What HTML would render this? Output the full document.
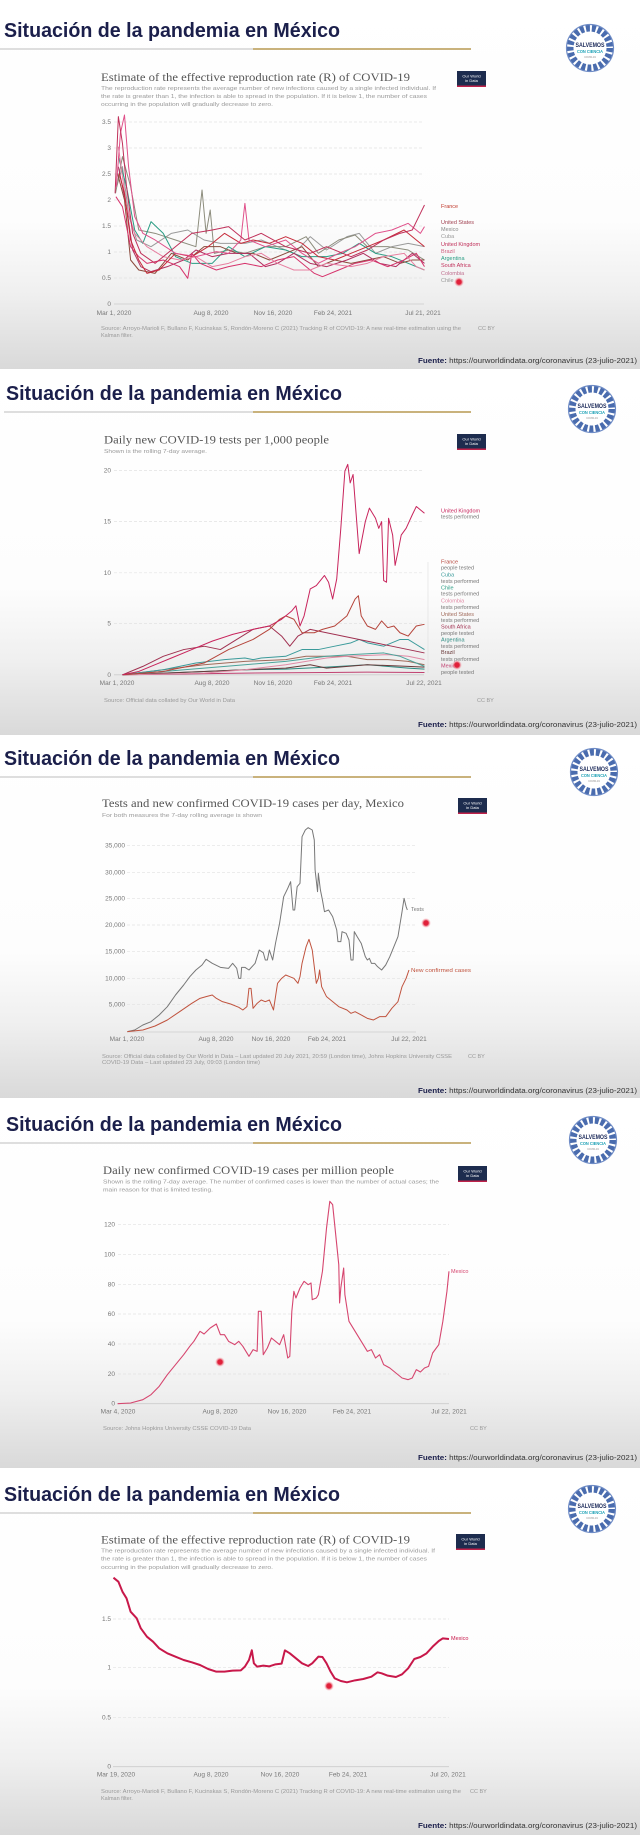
<!DOCTYPE html>
<html><head><meta charset="utf-8"><style>
html,body{margin:0;padding:0;background:#fff}
svg{display:block}
.t{font-family:"Liberation Sans",sans-serif;font-weight:bold;fill:#1b1f4b;font-size:20px}
.ct{font-family:"Liberation Serif",serif;fill:#555;font-size:12px}
.s{font-family:"Liberation Sans",sans-serif;fill:#999;font-size:5.5px}
.ax{font-family:"Liberation Sans",sans-serif;fill:#777;font-size:6.5px}
.lg{font-family:"Liberation Sans",sans-serif;font-size:5.5px}
.fu{font-family:"Liberation Sans",sans-serif;fill:#333;font-size:7px}
.g{stroke:#e2e2e2;stroke-width:0.7;stroke-dasharray:3 2}
.b{stroke:#ccc;stroke-width:0.8}
.p{fill:none;vector-effect:non-scaling-stroke;stroke-linejoin:round}
</style></head><body>
<svg width="640" height="1835" viewBox="0 0 640 1835" xmlns="http://www.w3.org/2000/svg">
<defs>
<linearGradient id="bg" x1="0" y1="0" x2="0" y2="1">
<stop offset="0" stop-color="#fff"/><stop offset="0.6" stop-color="#fdfdfd"/><stop offset="0.8" stop-color="#efefef"/><stop offset="1" stop-color="#d9d9d9"/>
</linearGradient>
<radialGradient id="dot"><stop offset="0" stop-color="#e0203a"/><stop offset="0.45" stop-color="#e0203a"/><stop offset="1" stop-color="#f7b0b8" stop-opacity="0"/></radialGradient>
<g id="logo">
<circle r="24" fill="#fff"/>
<circle r="20" fill="none" stroke="#4a6cae" stroke-width="7" stroke-dasharray="4 2"/>
<circle r="23.5" fill="none" stroke="#6f8cc6" stroke-width="1.2"/>
<circle r="16" fill="#fff"/>
<text x="0" y="-1" text-anchor="middle" font-family="Liberation Sans,sans-serif" font-weight="bold" font-size="6.5" fill="#1c2a5a" textLength="29" lengthAdjust="spacingAndGlyphs">SALVEMOS</text>
<text x="0" y="5" text-anchor="middle" font-family="Liberation Sans,sans-serif" font-weight="bold" font-size="4.5" fill="#1aa0b5" textLength="26" lengthAdjust="spacingAndGlyphs">CON CIENCIA</text>
<text x="0" y="10" text-anchor="middle" font-family="Liberation Sans,sans-serif" font-size="2.5" fill="#888">COVID-19</text>
</g>
<g id="owid">
<rect width="29" height="16" fill="#1d2c4e"/><rect y="14.5" width="29" height="1.5" fill="#c0224a"/>
<text x="14.5" y="6.5" text-anchor="middle" font-family="Liberation Sans,sans-serif" font-size="4" fill="#fff">Our World</text>
<text x="14.5" y="11" text-anchor="middle" font-family="Liberation Sans,sans-serif" font-size="4" fill="#fff">in Data</text>
</g>
</defs>

<!-- backgrounds -->
<rect x="0" y="0" width="640" height="369" fill="url(#bg)"/>
<rect x="0" y="369" width="640" height="366" fill="url(#bg)"/>
<rect x="0" y="735" width="640" height="363" fill="url(#bg)"/>
<rect x="0" y="1098" width="640" height="370" fill="url(#bg)"/>
<rect x="0" y="1468" width="640" height="367" fill="url(#bg)"/>

<!-- ============ PANEL 1 ============ -->
<g transform="translate(0,0)">
<text class="t" x="4" y="37" textLength="336" lengthAdjust="spacingAndGlyphs">Situación de la pandemia en México</text>
<line x1="0" y1="49" x2="253" y2="49" stroke="#d4d4d4" stroke-width="1.5"/>
<line x1="253" y1="49" x2="471" y2="49" stroke="#c9b27c" stroke-width="2"/>
<use href="#logo" x="590" y="48"/>
<text class="ct" x="101" y="81" textLength="309" lengthAdjust="spacingAndGlyphs">Estimate of the effective reproduction rate (R) of COVID-19</text>
<use href="#owid" x="457" y="71"/>
<text class="s" x="101" y="90" textLength="335" lengthAdjust="spacingAndGlyphs">The reproduction rate represents the average number of new infections caused by a single infected individual. If</text>
<text class="s" x="101" y="98" textLength="326" lengthAdjust="spacingAndGlyphs">the rate is greater than 1, the infection is able to spread in the population. If it is below 1, the number of cases</text>
<text class="s" x="101" y="106" textLength="172" lengthAdjust="spacingAndGlyphs">occurring in the population will gradually decrease to zero.</text>
<g>
<line class="g" x1="114" x2="424" y1="122" y2="122"/><line class="g" x1="114" x2="424" y1="148" y2="148"/>
<line class="g" x1="114" x2="424" y1="174" y2="174"/><line class="g" x1="114" x2="424" y1="200" y2="200"/>
<line class="g" x1="114" x2="424" y1="226" y2="226"/><line class="g" x1="114" x2="424" y1="252" y2="252"/>
<line class="g" x1="114" x2="424" y1="278" y2="278"/><line class="b" x1="114" x2="424" y1="304" y2="304"/>
</g>
<g class="ax" text-anchor="end">
<text x="111" y="124">3.5</text><text x="111" y="150">3</text><text x="111" y="176">2.5</text><text x="111" y="202">2</text>
<text x="111" y="228">1.5</text><text x="111" y="254">1</text><text x="111" y="280">0.5</text><text x="111" y="306">0</text>
</g>
<g class="ax" text-anchor="middle">
<text x="114" y="315">Mar 1, 2020</text><text x="211" y="315">Aug 8, 2020</text><text x="273" y="315">Nov 16, 2020</text><text x="333" y="315">Feb 24, 2021</text><text x="423" y="315">Jul 21, 2021</text>
</g>
<g transform="scale(0.40816,0.33333)" stroke-width="1">
<polyline class="p" stroke="#9a9a9a" points="286,560 300,500 316,650 335,720 370,740 420,700 460,690 500,720 540,730 600,730 640,720 680,740 720,760 760,710 800,750 850,710 880,700 920,760 960,740 1000,730 1040,740"/>
<polyline class="p" stroke="#8c8c7c" points="283,580 300,470 320,560 340,690 380,700 430,720 480,740 495,570 505,700 515,630 525,760 560,750 600,760 650,740 700,740 750,710 780,760 830,720 870,705 900,740 950,740 1000,750 1040,780"/>
<polyline class="p" stroke="#2a9d84" points="290,470 310,560 330,690 350,730 370,665 400,700 430,770 470,790 520,790 560,740 600,770 650,740 700,750 740,770 800,770 840,760 880,730 920,760 960,770 1000,790 1040,810"/>
<polyline class="p" stroke="#8b4a3c" points="288,520 305,600 320,780 340,810 380,820 420,760 460,780 500,740 540,740 580,760 620,760 660,780 700,760 740,740 780,800 820,780 860,790 900,780 940,770 980,790 1010,780 1040,780"/>
<polyline class="p" stroke="#b03060" points="290,500 310,620 325,750 345,800 370,815 410,800 450,780 480,750 520,770 560,760 610,760 650,800 680,790 720,760 760,790 800,800 850,780 890,760 930,790 970,800 1010,760 1040,790"/>
<polyline class="p" stroke="#d6336c" points="284,590 300,620 320,740 340,770 360,790 400,780 440,800 460,835 470,760 490,790 530,810 560,800 600,790 640,800 680,780 720,770 770,820 790,830 830,810 870,790 910,780 950,800 990,780 1020,760 1040,800"/>
<polyline class="p" stroke="#e77fa0" points="290,440 310,620 330,700 360,740 400,770 440,780 480,770 520,800 560,790 600,770 640,760 680,790 720,810 760,810 800,790 860,800 900,790 940,770 990,760 1020,800 1040,810"/>
<polyline class="p" stroke="#c62a3a" points="292,520 305,580 320,720 340,780 360,820 390,810 430,760 470,770 510,740 550,700 590,730 620,720 660,730 700,710 740,730 780,770 820,780 860,760 900,740 940,720 990,690 1020,720 1040,740"/>
<polyline class="p" stroke="#e0508a" points="285,560 295,400 305,345 315,500 330,650 350,700 380,720 430,760 480,770 530,755 560,760 590,720 600,610 610,720 650,740 700,720 740,760 780,790 830,760 870,740 920,700 960,690 1000,670 1030,700 1040,680"/>
<polyline class="p" stroke="#c0305a" points="282,580 290,350 300,430 310,560 325,700 345,760 380,790 420,750 470,700 520,690 560,680 600,720 640,700 700,740 760,760 800,740 860,770 900,750 940,720 980,700 1010,690 1030,640 1040,615"/>
</g>
<g class="lg">
<text x="441" y="208" fill="#c0392b">France</text><text x="441" y="224" fill="#a04050">United States</text>
<text x="441" y="231" fill="#888">Mexico</text><text x="441" y="238" fill="#999">Cuba</text>
<text x="441" y="246" fill="#c0305a">United Kingdom</text><text x="441" y="253" fill="#d06080">Brazil</text>
<text x="441" y="260" fill="#2a9d84">Argentina</text><text x="441" y="267" fill="#c0305a">South Africa</text>
<text x="441" y="275" fill="#c07090">Colombia</text><text x="441" y="282" fill="#999">Chile</text>
</g>
<circle cx="459" cy="282" r="5" fill="url(#dot)"/>
<text class="s" x="101" y="330" textLength="360" lengthAdjust="spacingAndGlyphs">Source: Arroyo-Marioli F, Bullano F, Kucinskas S, Rondón-Moreno C (2021) Tracking R of COVID-19: A new real-time estimation using the</text>
<text class="s" x="101" y="337">Kalman filter.</text>
<text class="s" x="478" y="330">CC BY</text>
<text class="fu" x="637" y="363" text-anchor="end" textLength="219" lengthAdjust="spacingAndGlyphs"><tspan font-weight="bold" fill="#1b1f4b">Fuente:</tspan> https://ourworldindata.org/coronavirus (23-julio-2021)</text>
</g>

<!-- ============ PANEL 2 ============ -->
<g transform="translate(0,360)">
<text class="t" x="6" y="40" textLength="336" lengthAdjust="spacingAndGlyphs">Situación de la pandemia en México</text>
<line x1="4" y1="52" x2="253" y2="52" stroke="#d4d4d4" stroke-width="1.5"/>
<line x1="253" y1="52" x2="471" y2="52" stroke="#c9b27c" stroke-width="2"/>
<use href="#logo" x="592" y="49"/>
<text class="ct" x="104" y="83.5" textLength="225" lengthAdjust="spacingAndGlyphs">Daily new COVID-19 tests per 1,000 people</text>
<text class="s" x="104" y="93" textLength="103" lengthAdjust="spacingAndGlyphs">Shown is the rolling 7-day average.</text>
<use href="#owid" x="457" y="74"/>
<line class="g" x1="114" x2="424" y1="110.4" y2="110.4"/><line class="g" x1="114" x2="424" y1="161.6" y2="161.6"/>
<line class="g" x1="114" x2="424" y1="212.8" y2="212.8"/><line class="g" x1="114" x2="424" y1="263.6" y2="263.6"/>
<line class="b" x1="114" x2="424" y1="314.8" y2="314.8"/>
<g class="ax" text-anchor="end">
<text x="111" y="112.4">20</text><text x="111" y="163.6">15</text><text x="111" y="214.8">10</text><text x="111" y="265.6">5</text><text x="111" y="316.8">0</text>
</g>
<g class="ax" text-anchor="middle">
<text x="117" y="325">Mar 1, 2020</text><text x="212" y="325">Aug 8, 2020</text><text x="273" y="325">Nov 16, 2020</text><text x="333" y="325">Feb 24, 2021</text><text x="424" y="325">Jul 22, 2021</text>
</g>
<g transform="scale(0.40816,0.3367)" stroke-width="1">
<polyline class="p" stroke="#c04070" points="300,935 600,930 800,928 900,927 1040,928"/>
<polyline class="p" stroke="#2a8a80" points="300,935 500,925 600,920 700,918 800,912 900,905 1000,915 1040,918"/>
<polyline class="p" stroke="#6a3a3a" points="300,935 500,925 600,920 700,915 760,905 800,915 900,905 1000,910 1040,912"/>
<polyline class="p" stroke="#a06a5a" points="300,935 400,920 500,905 600,895 700,890 750,880 800,880 850,880 900,890 950,890 1000,895 1040,905"/>
<polyline class="p" stroke="#e08aa5" points="300,935 500,930 600,920 700,905 800,885 850,880 950,875 1000,880 1040,890"/>
<polyline class="p" stroke="#4aa39a" points="300,935 400,925 500,915 600,905 700,895 800,880 860,875 940,870 980,880 1000,890 1040,910"/>
<polyline class="p" stroke="#3a9a9a" points="300,935 400,920 480,900 550,890 600,885 620,890 640,885 700,880 720,870 740,860 780,860 820,850 860,840 880,830 900,840 940,850 980,830 1000,830 1020,845 1040,860"/>
<polyline class="p" stroke="#a03050" points="300,935 350,910 400,880 450,860 500,850 540,860 580,830 620,800 660,790 690,820 710,850 730,820 760,800 800,810 840,820 880,830 920,840 960,850 1000,860 1040,870"/>
<polyline class="p" stroke="#b5443a" points="300,935 400,925 500,900 560,860 620,830 660,800 685,770 700,760 720,770 740,810 770,810 790,800 820,790 850,760 870,710 878,700 885,760 900,790 920,800 935,775 950,795 965,790 980,810 1000,820 1020,790 1040,785"/>
<polyline class="p" stroke="#c8245c" points="300,935 340,925 380,905 420,885 470,860 520,835 570,815 620,800 660,790 690,770 715,745 725,730 735,790 745,760 760,680 775,670 795,640 805,660 815,710 825,650 835,500 845,330 852,310 858,365 865,340 880,575 895,480 905,440 920,470 928,500 935,480 940,655 947,660 952,470 962,520 968,610 975,570 983,520 995,500 1010,460 1020,435 1030,445 1040,455"/>
</g>
<line x1="428" y1="202" x2="428" y2="313" stroke="#ddd" stroke-width="0.6"/>
<g class="lg" font-size="5">
<text x="441" y="152.5" fill="#c8245c">United Kingdom</text><text x="441" y="158.6" fill="#777">tests performed</text>
<text x="441" y="203.7" fill="#b5443a">France</text><text x="441" y="209.7" fill="#777">people tested</text>
<text x="441" y="216.5" fill="#3a9a9a">Cuba</text><text x="441" y="222.9" fill="#777">tests performed</text>
<text x="441" y="229.6" fill="#2a9d84">Chile</text><text x="441" y="235.7" fill="#777">tests performed</text>
<text x="441" y="242.7" fill="#e08aa5">Colombia</text><text x="441" y="248.8" fill="#777">tests performed</text>
<text x="441" y="255.9" fill="#a06a5a">United States</text><text x="441" y="262" fill="#777">tests performed</text>
<text x="441" y="268.7" fill="#a03050">South Africa</text><text x="441" y="275" fill="#777">people tested</text>
<text x="441" y="281.5" fill="#2a8a80">Argentina</text><text x="441" y="287.9" fill="#777">tests performed</text>
<text x="441" y="294" fill="#6a3a3a">Brazil</text><text x="441" y="301" fill="#777">tests performed</text>
<text x="441" y="307.4" fill="#c04070">Mexico</text><text x="441" y="313.8" fill="#777">people tested</text>
</g>
<circle cx="457" cy="305" r="5" fill="url(#dot)"/>
<text class="s" x="104" y="342" textLength="131" lengthAdjust="spacingAndGlyphs">Source: Official data collated by Our World in Data</text>
<text class="s" x="477" y="342">CC BY</text>
<text class="fu" x="637" y="367" text-anchor="end" textLength="219" lengthAdjust="spacingAndGlyphs"><tspan font-weight="bold" fill="#1b1f4b">Fuente:</tspan> https://ourworldindata.org/coronavirus (23-julio-2021)</text>
</g>

<!-- ============ PANEL 3 ============ -->
<g transform="translate(0,730)">
<text class="t" x="4" y="35" textLength="336" lengthAdjust="spacingAndGlyphs">Situación de la pandemia en México</text>
<line x1="0" y1="47" x2="253" y2="47" stroke="#d4d4d4" stroke-width="1.5"/>
<line x1="253" y1="47" x2="471" y2="47" stroke="#c9b27c" stroke-width="2"/>
<use href="#logo" x="594" y="42"/>
<text class="ct" x="102" y="77" textLength="302" lengthAdjust="spacingAndGlyphs">Tests and new confirmed COVID-19 cases per day, Mexico</text>
<text class="s" x="102" y="87" textLength="160" lengthAdjust="spacingAndGlyphs">For both measures the 7-day rolling average is shown</text>
<use href="#owid" x="458" y="68"/>
<line class="g" x1="127" x2="416" y1="115.7" y2="115.7"/><line class="g" x1="127" x2="416" y1="142.3" y2="142.3"/>
<line class="g" x1="127" x2="416" y1="168.3" y2="168.3"/><line class="g" x1="127" x2="416" y1="195" y2="195"/>
<line class="g" x1="127" x2="416" y1="221.7" y2="221.7"/><line class="g" x1="127" x2="416" y1="248.3" y2="248.3"/>
<line class="g" x1="127" x2="416" y1="274.7" y2="274.7"/><line class="b" x1="127" x2="416" y1="302" y2="302"/>
<g class="ax" text-anchor="end">
<text x="125" y="117.7">35,000</text><text x="125" y="144.3">30,000</text><text x="125" y="170.3">25,000</text><text x="125" y="197">20,000</text>
<text x="125" y="223.7">15,000</text><text x="125" y="250.3">10,000</text><text x="125" y="276.7">5,000</text>
</g>
<g class="ax" text-anchor="middle">
<text x="127" y="311">Mar 1, 2020</text><text x="216" y="311">Aug 8, 2020</text><text x="271" y="311">Nov 16, 2020</text><text x="327" y="311">Feb 24, 2021</text><text x="409" y="311">Jul 22, 2021</text>
</g>
<g transform="scale(0.40816,0.33333)" stroke-width="1">
<polyline class="p" stroke="#777" points="312,905 330,900 350,885 370,875 390,855 410,830 430,795 450,765 465,740 480,720 495,705 505,688 520,700 540,712 560,715 570,700 580,715 585,745 590,745 592,712 600,712 610,720 625,700 635,660 645,668 650,690 655,690 660,660 668,690 675,640 685,580 695,500 705,475 712,455 718,540 722,540 728,470 735,460 740,320 748,300 755,293 765,300 770,330 772,420 778,485 780,430 785,480 790,510 795,545 805,540 815,560 825,600 828,635 835,635 838,605 848,610 855,630 860,690 865,690 868,605 875,620 885,640 895,680 900,690 905,685 910,700 918,700 925,710 935,720 945,705 955,680 965,650 975,620 985,545 990,505 995,530 998,540"/>
<polyline class="p" stroke="#c0533e" points="312,905 350,900 380,888 410,870 440,845 470,820 490,805 505,800 520,795 530,805 545,815 565,822 585,832 595,840 605,830 610,775 615,775 620,835 630,820 640,810 650,815 660,810 670,840 680,760 690,745 700,735 710,740 720,745 730,760 735,740 740,700 750,650 757,628 765,660 770,710 775,760 780,745 783,720 788,770 800,800 815,815 830,830 850,840 860,850 870,845 885,855 900,865 915,870 930,860 945,860 960,835 975,815 985,770 995,745 1002,720"/>
</g>
<text class="lg" x="411" y="181" fill="#777">Tests</text>
<text class="lg" x="411" y="242" fill="#c0533e" textLength="60" lengthAdjust="spacingAndGlyphs">New confirmed cases</text>
<circle cx="426" cy="193" r="5" fill="url(#dot)"/>
<text class="s" x="102" y="328" textLength="350" lengthAdjust="spacingAndGlyphs">Source: Official data collated by Our World in Data – Last updated 20 July 2021, 20:59 (London time), Johns Hopkins University CSSE</text>
<text class="s" x="102" y="334" textLength="158" lengthAdjust="spacingAndGlyphs">COVID-19 Data – Last updated 23 July, 09:03 (London time)</text>
<text class="s" x="468" y="328">CC BY</text>
<text class="fu" x="637" y="363" text-anchor="end" textLength="219" lengthAdjust="spacingAndGlyphs"><tspan font-weight="bold" fill="#1b1f4b">Fuente:</tspan> https://ourworldindata.org/coronavirus (23-julio-2021)</text>
</g>

<!-- ============ PANEL 4 ============ -->
<g transform="translate(0,1098)">
<text class="t" x="6" y="33" textLength="336" lengthAdjust="spacingAndGlyphs">Situación de la pandemia en México</text>
<line x1="0" y1="45" x2="253" y2="45" stroke="#d4d4d4" stroke-width="1.5"/>
<line x1="253" y1="45" x2="471" y2="45" stroke="#c9b27c" stroke-width="2"/>
<use href="#logo" x="593" y="42"/>
<text class="ct" x="103" y="76" textLength="291" lengthAdjust="spacingAndGlyphs">Daily new confirmed COVID-19 cases per million people</text>
<text class="s" x="103" y="85.3" textLength="336" lengthAdjust="spacingAndGlyphs">Shown is the rolling 7-day average. The number of confirmed cases is lower than the number of actual cases; the</text>
<text class="s" x="103" y="93.3" textLength="110" lengthAdjust="spacingAndGlyphs">main reason for that is limited testing.</text>
<use href="#owid" x="458" y="68"/>
<line class="g" x1="118" x2="449" y1="126.7" y2="126.7"/><line class="g" x1="118" x2="449" y1="156.7" y2="156.7"/>
<line class="g" x1="118" x2="449" y1="186.7" y2="186.7"/><line class="g" x1="118" x2="449" y1="216" y2="216"/>
<line class="g" x1="118" x2="449" y1="246" y2="246"/><line class="g" x1="118" x2="449" y1="276" y2="276"/>
<line class="b" x1="118" x2="449" y1="305.7" y2="305.7"/>
<g class="ax" text-anchor="end">
<text x="115" y="128.7">120</text><text x="115" y="158.7">100</text><text x="115" y="188.7">80</text><text x="115" y="218">60</text>
<text x="115" y="248">40</text><text x="115" y="278">20</text><text x="115" y="307.7">0</text>
</g>
<g class="ax" text-anchor="middle">
<text x="118" y="315.3">Mar 4, 2020</text><text x="220" y="315.3">Aug 8, 2020</text><text x="287" y="315.3">Nov 16, 2020</text><text x="352" y="315.3">Feb 24, 2021</text><text x="449" y="315.3">Jul 22, 2021</text>
</g>
<g transform="scale(0.40816,0.33333)" stroke-width="1.1">
<polyline class="p" stroke="#d6466f" points="288,917 320,915 350,905 370,890 390,865 410,830 430,800 450,770 465,745 475,730 490,700 500,708 515,690 530,678 540,710 550,710 560,730 575,740 585,730 595,745 610,775 620,755 630,760 633,640 640,640 645,770 655,750 665,720 675,730 685,740 695,710 700,745 705,780 710,775 715,640 720,580 725,600 735,570 745,550 755,560 762,555 765,605 775,600 780,590 790,520 800,390 808,310 815,320 820,380 830,500 832,615 835,570 842,510 845,590 855,670 870,700 885,730 900,760 910,755 920,780 930,770 940,800 955,810 970,825 985,840 1000,845 1010,840 1020,815 1030,822 1040,810 1050,805 1060,765 1075,740 1085,670 1095,580 1100,520"/>
</g>
<text class="lg" x="451" y="175" fill="#d6466f">Mexico</text>
<circle cx="220" cy="264" r="5" fill="url(#dot)"/>
<text class="s" x="103" y="332" textLength="148" lengthAdjust="spacingAndGlyphs">Source: Johns Hopkins University CSSE COVID-19 Data</text>
<text class="s" x="470" y="332">CC BY</text>
<text class="fu" x="637" y="362" text-anchor="end" textLength="219" lengthAdjust="spacingAndGlyphs"><tspan font-weight="bold" fill="#1b1f4b">Fuente:</tspan> https://ourworldindata.org/coronavirus (23-julio-2021)</text>
</g>

<!-- ============ PANEL 5 ============ -->
<g transform="translate(0,1465)">
<text class="t" x="4" y="36" textLength="336" lengthAdjust="spacingAndGlyphs">Situación de la pandemia en México</text>
<line x1="0" y1="48" x2="253" y2="48" stroke="#d4d4d4" stroke-width="1.5"/>
<line x1="253" y1="48" x2="471" y2="48" stroke="#c9b27c" stroke-width="2"/>
<use href="#logo" x="592" y="44"/>
<text class="ct" x="101" y="78.3" textLength="309" lengthAdjust="spacingAndGlyphs">Estimate of the effective reproduction rate (R) of COVID-19</text>
<use href="#owid" x="456" y="69"/>
<text class="s" x="101" y="87.3" textLength="334" lengthAdjust="spacingAndGlyphs">The reproduction rate represents the average number of new infections caused by a single infected individual. If</text>
<text class="s" x="101" y="95.7" textLength="326" lengthAdjust="spacingAndGlyphs">the rate is greater than 1, the infection is able to spread in the population. If it is below 1, the number of cases</text>
<text class="s" x="101" y="104" textLength="172" lengthAdjust="spacingAndGlyphs">occurring in the population will gradually decrease to zero.</text>
<line class="g" x1="113" x2="449" y1="154" y2="154"/><line class="g" x1="113" x2="449" y1="202.3" y2="202.3"/>
<line class="g" x1="113" x2="449" y1="252.3" y2="252.3"/><line class="b" x1="113" x2="449" y1="301.7" y2="301.7"/>
<g class="ax" text-anchor="end">
<text x="111" y="156">1.5</text><text x="111" y="204.3">1</text><text x="111" y="254.3">0.5</text><text x="111" y="303.7">0</text>
</g>
<g class="ax" text-anchor="middle">
<text x="116" y="311.3">Mar 19, 2020</text><text x="211" y="311.3">Aug 8, 2020</text><text x="280" y="311.3">Nov 16, 2020</text><text x="348" y="311.3">Feb 24, 2021</text><text x="448" y="311.3">Jul 20, 2021</text>
</g>
<g transform="scale(0.40816,0.33333)" stroke-width="2">
<polyline class="p" stroke="#c8184a" points="278,338 290,350 300,380 310,400 320,440 335,460 345,490 360,515 375,530 390,550 410,565 430,575 450,585 470,592 490,600 510,612 530,620 550,620 570,617 590,616 600,605 610,585 617,556 622,595 630,605 645,602 660,604 675,598 690,596 698,556 710,565 725,580 740,595 755,603 765,595 780,575 790,576 800,595 810,620 820,640 835,648 850,652 870,646 890,642 910,635 925,622 935,625 950,632 970,636 985,628 1000,610 1015,582 1030,576 1045,565 1060,545 1075,528 1085,520 1100,522"/>
</g>
<text class="lg" x="451" y="175" fill="#c8184a">Mexico</text>
<circle cx="329" cy="221" r="5" fill="url(#dot)"/>
<text class="s" x="101" y="328" textLength="360" lengthAdjust="spacingAndGlyphs">Source: Arroyo-Marioli F, Bullano F, Kucinskas S, Rondón-Moreno C (2021) Tracking R of COVID-19: A new real-time estimation using the</text>
<text class="s" x="101" y="335">Kalman filter.</text>
<text class="s" x="470" y="328">CC BY</text>
<text class="fu" x="637" y="363" text-anchor="end" textLength="219" lengthAdjust="spacingAndGlyphs"><tspan font-weight="bold" fill="#1b1f4b">Fuente:</tspan> https://ourworldindata.org/coronavirus (23-julio-2021)</text>
</g>
</svg>
</body></html>
